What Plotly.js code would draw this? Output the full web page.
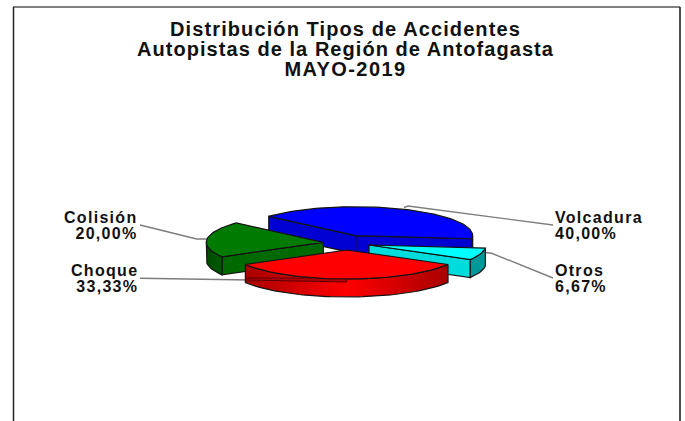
<!DOCTYPE html>
<html>
<head>
<meta charset="utf-8">
<script src="https://cdn.plot.ly/plotly-3.0.1.min.js"></script>
<style>
html,body{margin:0;padding:0;background:#fff;}
.annotation-text{letter-spacing:1.3px;}
</style>
</head>
<body>
<div id="chart" style="width:685px;height:421px"></div>
<script>
// Data
const categories = ['Volcadura', 'Otros', 'Choque', 'Colisión'];
const values = [40.00, 6.67, 33.33, 20.00];
const percentLabels = ['40,00%', '6,67%', '33,33%', '20,00%'];
const titleLines = ['Distribución Tipos de Accidentes', 'Autopistas de la Región de Antofagasta', 'MAYO-2019'];

// Styles
const topColors = ['#0000ff', '#00ffff', '#ff0000', '#007a00'];
const radialColors = ['#0000d2', '#00dcdc', '#c00000', '#006a00'];
const arcScales = [
  [[0, '#0000c8'], [1, '#0000c8']],
  [[0, '#009898'], [1, '#009898']],
  [[0, '#a80000'], [0.5, '#ff0000'], [1, '#a80000']],
  [[0, '#004a00'], [1, '#005a00']]
];
const outline = '#141414';

// Pie geometry on the page-sized axes
const apexes = [[355.7, 235.7], [369, 245], [346.7, 250], [323.3, 242.3]];
const rx = 117, ry = 29, depth = 18, startAngle = 138;
const rad = d => d * Math.PI / 180;
const total = values.reduce((a, b) => a + b, 0);

const traces = [];
function poly(pts, extra) {
  traces.push(Object.assign({
    type: 'scatter', mode: 'lines', x: pts.map(p => p[0]), y: pts.map(p => p[1]),
    fill: 'toself', line: {color: outline, width: 1.2}, hoverinfo: 'skip', showlegend: false
  }, extra));
}
function leader(pts) {
  traces.push({type: 'scatter', mode: 'lines', x: pts.map(p => p[0]), y: pts.map(p => p[1]),
    line: {color: '#7d7d7d', width: 1.4}, hoverinfo: 'skip', showlegend: false});
}

leader([[553, 225], [408, 206], [404, 207.5]]);
leader([[553, 278], [491.7, 253.3], [484, 252.5]]);
leader([[140, 225], [196.7, 239], [208, 239]]);
leader([[140, 278.3], [250, 280]]);

let cum = startAngle;
const spans = values.map(v => {
  const a0 = cum; const a1 = cum - v / total * 360; cum = a1; return [a0, a1];
});
const drawOrder = [0, 3, 1, 2];
drawOrder.forEach(i => {
  const [ax, ay] = apexes[i];
  const [a0, a1] = spans[i];
  const pt = (t, dy) => [ax + rx * Math.cos(rad(t)), ay - ry * Math.sin(rad(t)) + (dy || 0)];
  const radial = t => [[ax, ay], pt(t), pt(t, depth), [ax, ay + depth]];
  if (Math.cos(rad(a0)) < 0) poly(radial(a0).concat([[ax, ay]]), {fillcolor: radialColors[i]});
  if (Math.cos(rad(a1)) > 0) poly(radial(a1).concat([[ax, ay]]), {fillcolor: radialColors[i]});
  const hi = Math.min(a0, 0), lo = Math.max(a1, -180);
  if (hi > lo) {
    const upper = [], lower = [];
    for (let t = hi; t > lo; t -= 2) { upper.push(pt(t)); lower.unshift(pt(t, depth)); }
    upper.push(pt(lo)); lower.unshift(pt(lo, depth));
    const ring = upper.concat(lower); ring.push(ring[0]);
    poly(ring, {fillgradient: {type: 'horizontal', colorscale: arcScales[i]}});
  }
  if (i === 2) {
    // seam visible on the front wall of the red slice
    poly([[ax - 101, ay + 28], [ax, ay + 28], [ax, ay + 32], [ax - 101, ay + 30], [ax - 101, ay + 28]],
      {fillcolor: '#b00000', line: {color: '#5a0000', width: 1}});
  }
  const top = [[ax, ay]];
  for (let t = a0; t > a1; t -= 2) top.push(pt(t));
  top.push(pt(a1)); top.push([ax, ay]);
  poly(top, {fillcolor: topColors[i]});
});

const textFont = {family: '"Liberation Sans", Arial, sans-serif', size: 16, color: '#111', weight: 700};
function lbl(x, y, k, anchor) {
  return {xref: 'x', yref: 'y', x, y, text: categories[k] + '<br>' + percentLabels[k], showarrow: false,
    xanchor: anchor, yanchor: 'top', align: anchor, font: textFont};
}
const annotations = [
  lbl(553, 207, 0, 'left'), lbl(553, 260, 1, 'left'),
  lbl(140, 260, 2, 'right'), lbl(140, 207, 3, 'right')
];

const frame = [
  {x0: 13, x1: 680, y0: 7, y1: 7, color: '#808080', w: 2},
  {x0: 13.5, x1: 13.5, y0: 7, y1: 421, color: '#222', w: 1.5},
  {x0: 680, x1: 680, y0: 7, y1: 421, color: '#111', w: 1.5}
].map(f => ({type: 'line', xref: 'x', yref: 'y', x0: f.x0, x1: f.x1, y0: f.y0, y1: f.y1, line: {color: f.color, width: f.w}}));

const layout = {
  width: 685, height: 421, margin: {l: 0, r: 0, t: 0, b: 0},
  paper_bgcolor: '#fff', plot_bgcolor: '#fff', showlegend: false,
  title: {text: titleLines.join('<br>'), x: 345.5 / 685, xanchor: 'center', xref: 'paper', y: 1 - 36 / 421, yanchor: 'top', yref: 'container',
    font: Object.assign({}, textFont, {size: 20})},
  xaxis: {range: [0, 685], visible: false, fixedrange: true},
  yaxis: {range: [421, 0], visible: false, fixedrange: true},
  shapes: frame, annotations
};
Plotly.newPlot('chart', traces, layout, {displayModeBar: false, staticPlot: true}).then(() => {
  // The reference sets its lines tighter than Plotly's default leading
  const titleSpacing = [1.1, 1.05, 1.4];
  document.querySelectorAll('.gtitle tspan.line').forEach((t, k) => {
    t.setAttribute('dy', (k * 20 / 20) + 'em');
    t.style.letterSpacing = titleSpacing[k] + 'px';
  });
  document.querySelectorAll('.annotation-text tspan.line').forEach(t => {
    if (parseFloat(t.getAttribute('dy')) > 0) t.setAttribute('dy', (15.5 / 16) + 'em');
  });
});
</script>
</body>
</html>
